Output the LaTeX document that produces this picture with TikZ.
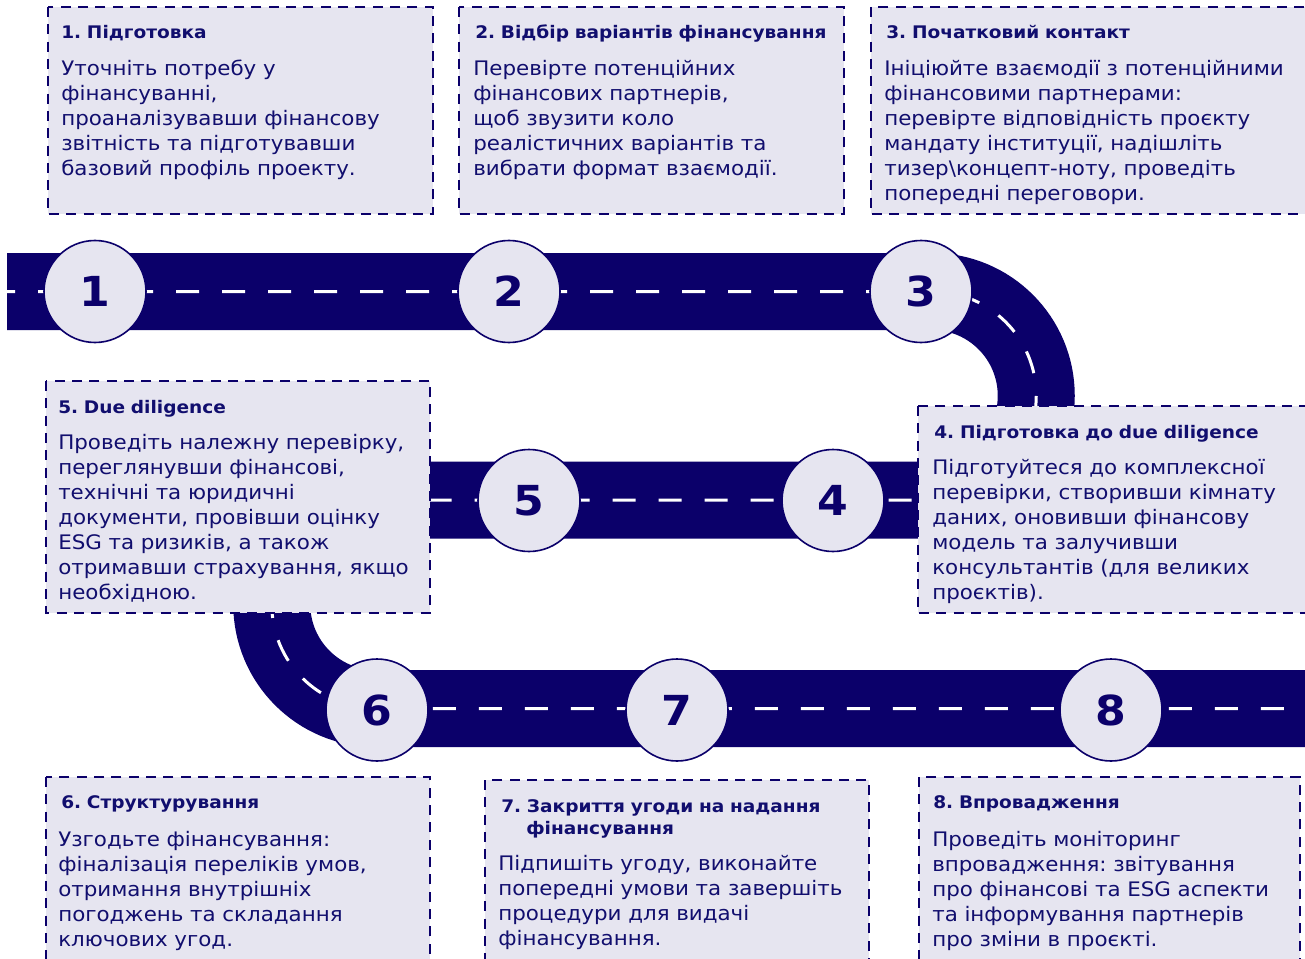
\documentclass[tikz,border=0pt]{standalone}
\usepackage{fontspec}
\setmainfont{DejaVu Sans}[FakeStretch=1.07]
\definecolor{navy}{RGB}{11,0,106}
\definecolor{ink}{RGB}{17,14,110}
\definecolor{lav}{RGB}{230,229,240}
\frenchspacing
\begin{document}
\begin{tikzpicture}[x=0.75pt,y=-0.75pt,
 road/.style={line width=57.75pt, draw=navy},
 lane/.style={line width=2.25pt, draw=white, dash pattern=on 17.25pt off 17.25pt, dash phase=11.25pt},
 stepcircle/.style={circle, draw=navy, line width=1.2pt, fill=lav, minimum size=76.5pt, inner sep=0pt, font=\fontsize{31}{31}\selectfont\bfseries, text=navy},
 box/.style={fill=lav, draw=navy, line width=1.3pt, dash pattern=on 7.5pt off 5.5pt},
 ttl/.style={anchor=base west, inner sep=0pt, text=ink, font=\frenchspacing\fontsize{13}{16.5}\selectfont\bfseries, text width=330pt, align=left},
 body/.style={anchor=base west, inner sep=0pt, text=ink, font=\frenchspacing\fontsize{15}{18.75}\selectfont, text width=330pt, align=left},
]
\useasboundingbox (0,0) rectangle (1305,959);
% road
\coordinate (r0) at (7,291.5);
\coordinate (r1) at (932,291.5);
\coordinate (r2) at (376,500);
\coordinate (r3) at (1312,708.5);
\draw[road] (r0) -- (r1) arc[start angle=-90,end angle=90,radius=104.25] -- (r2) arc[start angle=270,end angle=90,radius=104.25] -- (r3);
\draw[lane] (r0) -- (r1) arc[start angle=-90,end angle=90,radius=104.25] -- (r2) arc[start angle=270,end angle=90,radius=104.25] -- (r3);
% circles
\node[stepcircle] (c1) at (95,291.5) {1};
\node[stepcircle] (c2) at (509,291.5) {2};
\node[stepcircle] (c3) at (921,291.5) {3};
\node[stepcircle] (c4) at (833,500.5) {4};
\node[stepcircle] (c5) at (529,500.5) {5};
\node[stepcircle] (c6) at (377,710) {6};
\node[stepcircle] (c7) at (677,710) {7};
\node[stepcircle] (c8) at (1111,710) {8};
% boxes
\path[box] (48,7) rectangle (433,214);
\path[box] (459,7) rectangle (844,214);
\path[box] (871,7) rectangle (1314,214);
\path[box] (46,381) rectangle (430,613);
\path[box] (918,406) rectangle (1314,613);
\path[box] (46,777) rectangle (430,968);
\path[box] (485,780) rectangle (869,968);
\path[box] (919,777) rectangle (1300,968);
% texts
\node[ttl] (t1) at (61,39) {1. Підготовка};
\node[body] (b1) at (61,76) {Уточніть потребу у\\фінансуванні,\\проаналізувавши фінансову\\звітність та підготувавши\\базовий профіль проекту.};
\node[ttl] (t2) at (475,39) {2. Відбір варіантів фінансування};
\node[body] (b2) at (473,76) {Перевірте потенційних\\фінансових партнерів,\\щоб звузити коло\\реалістичних варіантів та\\вибрати формат взаємодії.};
\node[ttl] (t3) at (886,39) {3. Початковий контакт};
\node[body] (b3) at (884,76) {Ініціюйте взаємодії з потенційними\\фінансовими партнерами:\\перевірте відповідність проєкту\\мандату інституції, надішліть\\тизер\textbackslash концепт-ноту, проведіть\\попередні переговори.};
\node[ttl] (t5) at (58,413) {5. Due diligence};
\node[body] (b5) at (58,449) {Проведіть належну перевірку,\\переглянувши фінансові,\\технічні та юридичні\\документи, провівши оцінку\\ESG та ризиків, а також\\отримавши страхування, якщо\\необхідною.};
\node[ttl] (t4) at (934,438) {4. Підготовка до due diligence};
\node[body] (b4) at (932,474) {Підготуйтеся до комплексної\\перевірки, створивши кімнату\\даних, оновивши фінансову\\модель та залучивши\\консультантів (для великих\\проєктів).};
\node[ttl] (t6) at (61,808) {6. Структурування};
\node[body] (b6) at (58,846) {Узгодьте фінансування:\\фіналізація переліків умов,\\отримання внутрішніх\\погоджень та складання\\ключових угод.};
\node[ttl] (t7) at (501,812) {7. Закриття угоди на надання\\\hspace*{18.75pt}фінансування};
\node[body] (b7) at (498,870) {Підпишіть угоду, виконайте\\попередні умови та завершіть\\процедури для видачі\\фінансування.};
\node[ttl] (t8) at (933,808) {8. Впровадження};
\node[body] (b8) at (932,846) {Проведіть моніторинг\\впровадження: звітування\\про фінансові та ESG аспекти\\та інформування партнерів\\про зміни в проєкті.};
\end{tikzpicture}
\end{document}
